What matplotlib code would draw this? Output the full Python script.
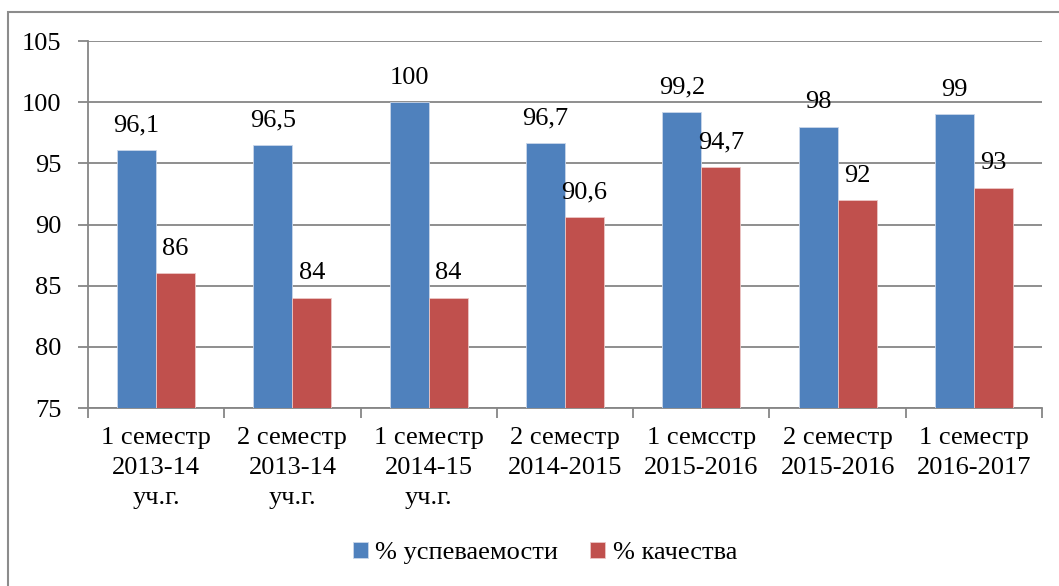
import matplotlib.pyplot as plt
import numpy as np
from matplotlib.patches import Rectangle

plt.rcParams['font.family'] = ['Liberation Serif', 'DejaVu Serif']

# данные
categories = ['1 семестр\n2013-14\nуч.г.', '2 семестр\n2013-14\nуч.г.',
              '1 семестр\n2014-15\nуч.г.', '2 семестр\n2014-2015',
              '1 семсстр\n2015-2016', '2 семестр\n2015-2016',
              '1 семестр\n2016-2017']
uspev = [96.1, 96.5, 100, 96.7, 99.2, 98, 99]
kach = [86, 84, 84, 90.6, 94.7, 92, 93]
uspev_txt = ['96,1', '96,5', '100', '96,7', '99,2', '98', '99']
kach_txt = ['86', '84', '84', '90,6', '94,7', '92', '93']

fs = 19

fig = plt.figure(figsize=(10.59, 5.86), dpi=100)
ax = fig.add_axes([88/1059, 1-408/586, (1042-88)/1059, (408-41)/586])

# рамка вокруг диаграммы
fig.patches.append(Rectangle((8/1059, -0.1), 1.2, 1-12/586+0.1,
                             transform=fig.transFigure, fill=False,
                             edgecolor='#8c8c8c', linewidth=1.5))

x = np.arange(len(categories))
w = 1/3.5
b1 = ax.bar(x - w/2, uspev, w, color='#4F81BD', edgecolor='#c9d6ea',
            linewidth=0.6, label='% успеваемости', zorder=3)
b2 = ax.bar(x + w/2, kach, w, color='#C0504D', edgecolor='#ecc7c6',
            linewidth=0.6, label='% качества', zorder=3)

for xi, v, t in zip(x - w/2, uspev, uspev_txt):
    ax.text(xi, v + 1.1, t, ha='center', va='bottom', fontsize=fs, zorder=4)
for xi, v, t in zip(x + w/2, kach, kach_txt):
    ax.text(xi, v + 1.1, t, ha='center', va='bottom', fontsize=fs, zorder=4)

ax.set_ylim(75, 105)
ax.set_xlim(-0.5, len(categories) - 0.5)
ax.set_yticks(np.arange(75, 106, 5))
ax.yaxis.grid(True, color='#868686', linewidth=1.3, zorder=0)
ax.set_axisbelow(True)

ax.set_xticks(x)
ax.set_xticklabels(categories, fontsize=fs, linespacing=1.45)
ax.set_xticks(np.arange(-0.5, len(categories)), minor=True)
ax.tick_params(axis='x', which='major', length=0, pad=14)
ax.tick_params(axis='x', which='minor', length=7, color='#868686', width=1.3)
ax.tick_params(axis='y', length=7, color='#868686', width=1.3, labelsize=fs, pad=12)

for s in ['top', 'right']:
    ax.spines[s].set_visible(False)
for s in ['left', 'bottom']:
    ax.spines[s].set_color('#868686')
    ax.spines[s].set_linewidth(1.3)

fig.legend(handles=[b1, b2], loc='center', bbox_to_anchor=(545/1059, 1-553/586),
           ncol=2, frameon=False, fontsize=fs, handlelength=0.55, handleheight=0.55,
           handletextpad=0.3, columnspacing=1.2)

plt.savefig('out.png')
